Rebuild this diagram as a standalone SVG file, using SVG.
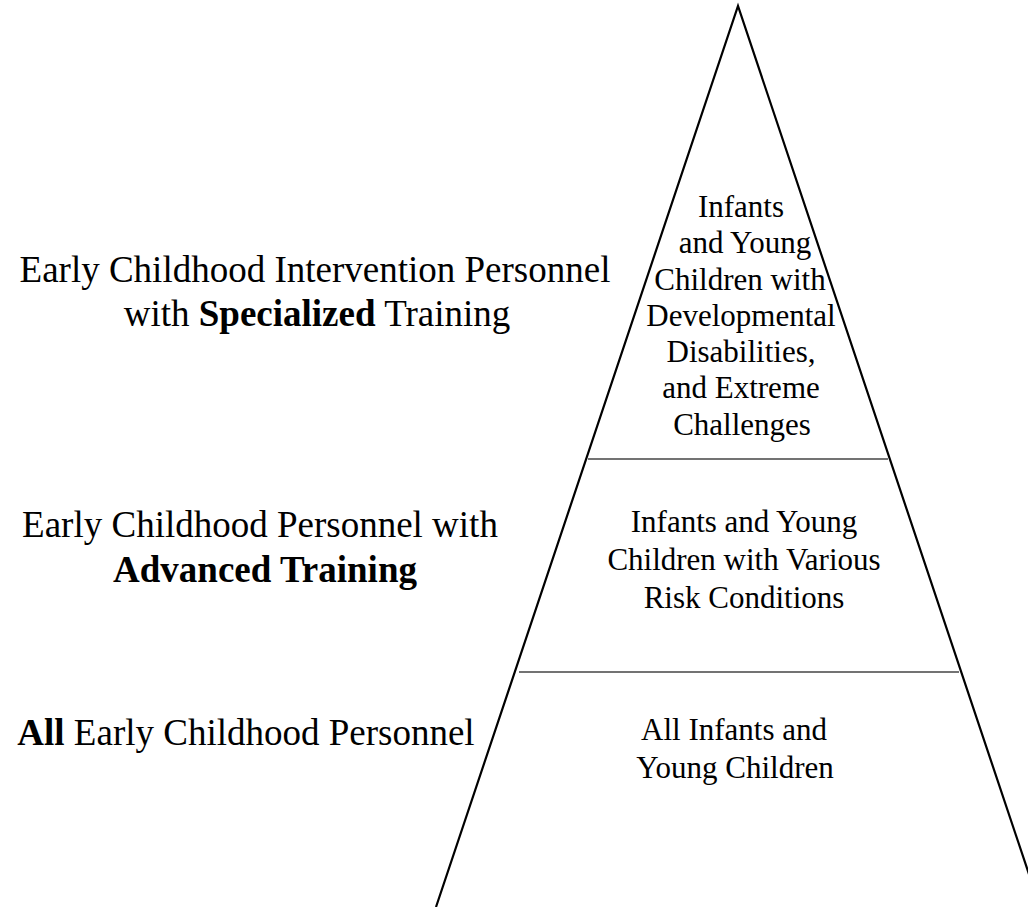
<svg xmlns="http://www.w3.org/2000/svg" width="1028" height="907" viewBox="0 0 1028 907">
<style>
.l{font-family:"Liberation Serif","Times New Roman",serif;font-size:37px;fill:#000;text-anchor:middle}
.r{font-family:"Liberation Serif","Times New Roman",serif;font-size:31px;fill:#000;text-anchor:middle}
.b{font-weight:bold}
.div{stroke:#444;stroke-width:1.6;fill:none}
</style>
<rect width="1028" height="907" fill="#fff"/>
<g id="pyramid">
<polyline points="436,907 738,6 1040,907" fill="none" stroke="#000" stroke-width="2.2" stroke-linejoin="miter"/>
</g>
<g id="connectors">
<line class="div" x1="588" y1="459" x2="888" y2="459"/>
<line class="div" x1="519" y1="672" x2="959" y2="672"/>
</g>
<g id="tier-top-left">
<text class="l" x="315" y="282">Early Childhood Intervention Personnel</text>
<text class="l" x="317" y="326">with <tspan class="b">Specialized</tspan> Training</text>
</g>
<g id="tier-mid-left">
<text class="l" x="260" y="537">Early Childhood Personnel with</text>
<text class="l b" x="265" y="582">Advanced Training</text>
</g>
<g id="tier-bottom-left">
<text class="l" x="246" y="745"><tspan class="b">All</tspan> Early Childhood Personnel</text>
</g>
<g id="tier-top-right">
<text class="r" x="741" y="217">Infants</text>
<text class="r" x="745" y="253">and Young</text>
<text class="r" x="740" y="290">Children with</text>
<text class="r" x="741" y="326">Developmental</text>
<text class="r" x="741" y="362">Disabilities,</text>
<text class="r" x="741" y="398">and Extreme</text>
<text class="r" x="742" y="435">Challenges</text>
</g>
<g id="tier-mid-right">
<text class="r" x="744" y="532">Infants and Young</text>
<text class="r" x="744" y="570">Children with Various</text>
<text class="r" x="744" y="608">Risk Conditions</text>
</g>
<g id="tier-bottom-right">
<text class="r" x="734" y="740">All Infants and</text>
<text class="r" x="735" y="778">Young Children</text>
</g>
</svg>
